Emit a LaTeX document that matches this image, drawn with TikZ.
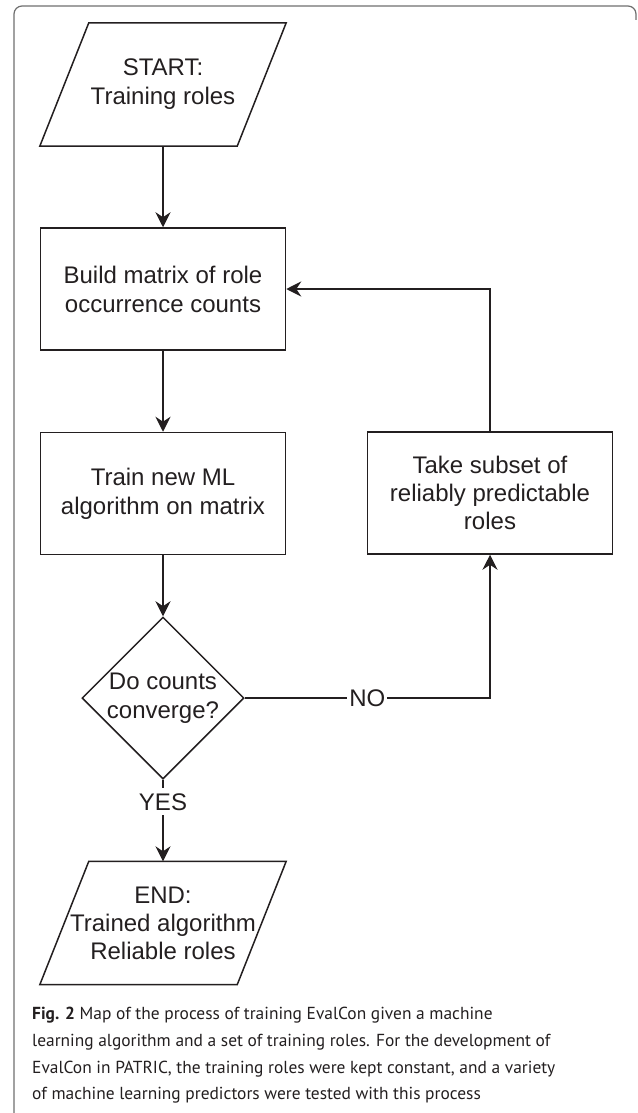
\documentclass[tikz,border=0pt]{standalone}
\usepackage{fontspec}
\setmainfont{Liberation Sans}
\newfontfamily\capfont{PT Sans}
\usetikzlibrary{arrows.meta,shapes.geometric,calc}
\definecolor{ink}{HTML}{231F20}
\definecolor{framegray}{HTML}{6E6E6E}
\begin{document}
\begin{tikzpicture}[x=1pt,y=-1pt,
  txt/.style={font=\fontsize{24}{29}\selectfont, text=ink, align=center},
  procbox/.style={txt, draw=ink, line width=1.5pt, minimum width=245pt, minimum height=122pt, inner sep=0pt},
  iobox/.style={txt, minimum width=197pt, minimum height=123pt, inner sep=0pt},
  decbox/.style={draw=ink, line width=1.5pt, diamond, minimum width=162pt, minimum height=162pt, inner sep=0pt},
  conn/.style={draw=ink, line width=1.5pt, -{Stealth[length=15pt,width=15pt,inset=5pt]}},
  shapeline/.style={draw=ink, line width=1.5pt},
  lbl/.style={font=\fontsize{24}{29}\selectfont, text=ink, fill=white, inner xsep=2pt, inner ysep=5pt}
]
\useasboundingbox (0,0) rectangle (637,1113);
\draw[framegray, line width=1.2pt, rounded corners=8pt] (14,1125) -- (14,6) -- (636,6) -- (636,20);

\node[iobox] (start) at (163,84.5) {START:\\Training roles};
\draw[shapeline] ($(start.north west)+(24.5,0)$) -- ($(start.north east)+(24.5,0)$) -- ($(start.south east)+(-24.5,0)$) -- ($(start.south west)+(-24.5,0)$) -- cycle;

\node[procbox] (build) at (163,289) {Build matrix of role\\occurrence counts};
\node[procbox] (train) at (163,493.5) {Train new ML\\algorithm on matrix};
\node[procbox, font=\fontsize{24}{28}\selectfont] (subset) at (490,493) {Take subset of\\reliably predictable\\roles};
\node[decbox] (conv) at (163,698) {};
\node[txt] (convtext) at (conv.center) {Do counts\\converge?};

\node[iobox, font=\fontsize{24}{28}\selectfont] (end) at (163,923) {END:\\Trained algorithm\\Reliable roles};
\draw[shapeline] ($(end.north west)+(24.5,0)$) -- ($(end.north east)+(24.5,0)$) -- ($(end.south east)+(-24.5,0)$) -- ($(end.south west)+(-24.5,0)$) -- cycle;

\draw[conn] (start.south) -- (build.north);
\draw[conn] (build.south) -- (train.north);
\draw[conn] (train.south) -- (conv.north);
\draw[conn] (conv.south) -- (end.north);
\draw[conn] (conv.east) -| (subset.south);
\draw[conn] (subset.north) |- (build.east);
\path (conv.south) -- node[lbl, pos=0.27] (yes) {YES} (end.north);
\path (conv.east) -| node[lbl, pos=0.25] (no) {NO} (subset.south);

\node[anchor=north west, font=\capfont\fontsize{17.4}{26.7}\selectfont, text=ink, align=left, inner sep=0pt] (caption) at (32,1007)
{\textbf{Fig. 2} Map of the process of training EvalCon given a machine\\
learning algorithm and a set of training roles. For the development of\\
EvalCon in PATRIC, the training roles were kept constant, and a variety\\
of machine learning predictors were tested with this process};
\end{tikzpicture}
\end{document}
